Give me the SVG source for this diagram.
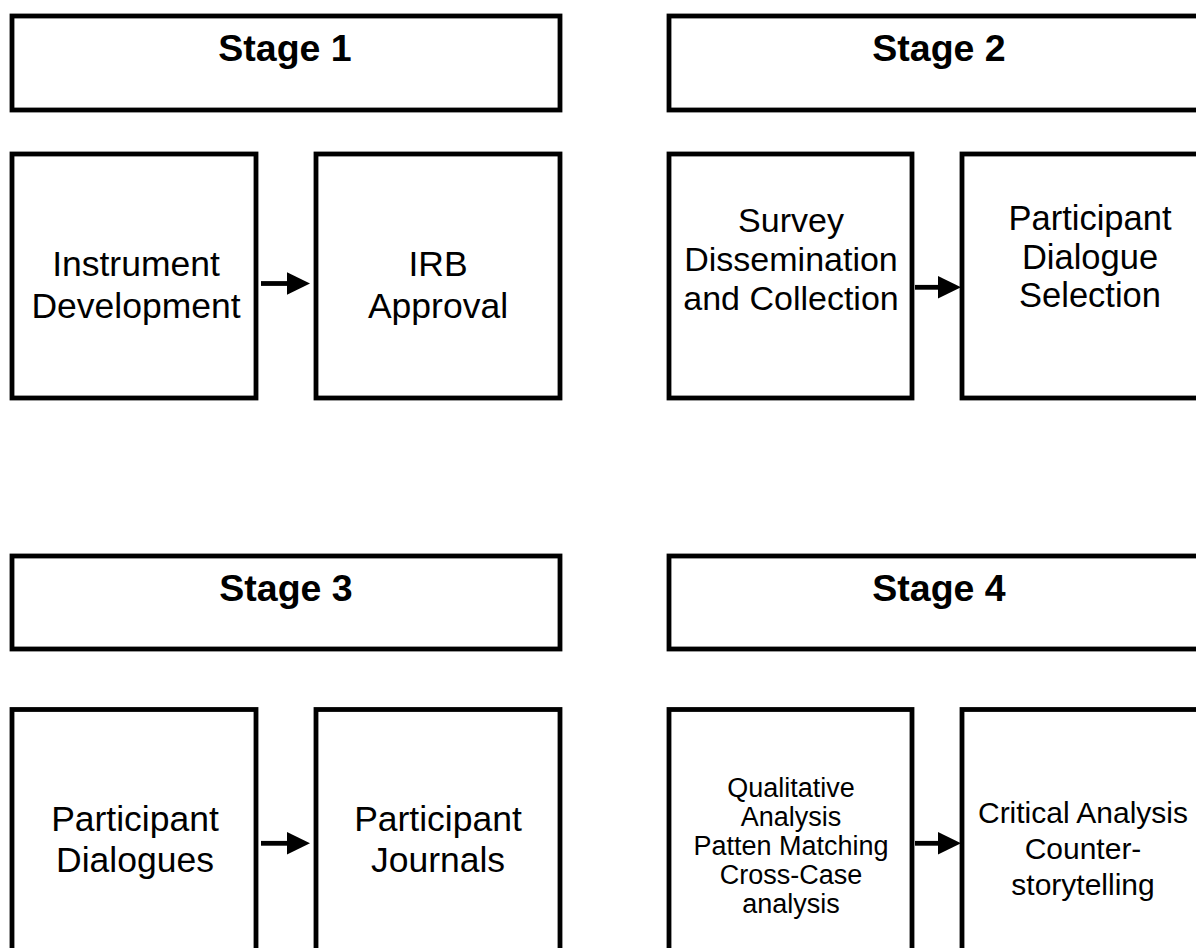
<svg xmlns="http://www.w3.org/2000/svg" width="1196" height="948" viewBox="0 0 1196 948">
<style>
.box{fill:#fff;stroke:#000;stroke-width:4.8}
.t{font-family:"Liberation Sans",Arial,Helvetica,sans-serif;fill:#000;text-anchor:middle}
.h{font-weight:bold;font-size:37.5px}
.conn{stroke:#000;stroke-width:4.8;fill:none}
</style>
<defs>
<marker id="ah" markerUnits="userSpaceOnUse" markerWidth="23" markerHeight="23" refX="4" refY="11.2" orient="auto">
<path d="M0,0 L23,11.2 L0,22.4 z" fill="#000"/>
</marker>
</defs>
<rect width="1196" height="948" fill="#fff"/>
<g id="stage1"><rect class="box" x="12" y="16" width="548" height="94"/><text class="t h" x="285" y="60.5">Stage 1</text></g>
<g id="stage2"><rect class="box" x="669" y="16" width="548" height="94"/><text class="t h" x="939" y="60.5">Stage 2</text></g>
<g id="stage3"><rect class="box" x="12" y="556" width="548" height="93"/><text class="t h" x="286" y="600.5">Stage 3</text></g>
<g id="stage4"><rect class="box" x="669" y="556" width="548" height="93"/><text class="t h" x="939" y="600.5">Stage 4</text></g>
<g id="instrument"><rect class="box" x="12" y="154" width="244" height="244"/><text class="t" font-size="35.5" x="136" y="276">Instrument</text><text class="t" font-size="35.5" x="136" y="318">Development</text></g>
<g id="irb"><rect class="box" x="316" y="154" width="244" height="244"/><text class="t" font-size="35.5" x="438" y="276">IRB</text><text class="t" font-size="35.5" x="438" y="318">Approval</text></g>
<g id="survey"><rect class="box" x="669" y="154" width="243" height="244"/><text class="t" font-size="34" x="791" y="232">Survey</text><text class="t" font-size="34" x="791" y="271">Dissemination</text><text class="t" font-size="34" x="791" y="310">and Collection</text></g>
<g id="selection"><rect class="box" x="962" y="154" width="256" height="244"/><text class="t" font-size="34.5" x="1090" y="230">Participant</text><text class="t" font-size="34.5" x="1090" y="268.5">Dialogue</text><text class="t" font-size="34.5" x="1090" y="307">Selection</text></g>
<g id="dialogues"><rect class="box" x="12" y="709.5" width="244" height="260"/><text class="t" font-size="35.5" x="135" y="831">Participant</text><text class="t" font-size="35.5" x="135" y="872">Dialogues</text></g>
<g id="journals"><rect class="box" x="316" y="709.5" width="244" height="260"/><text class="t" font-size="35.5" x="438" y="831">Participant</text><text class="t" font-size="35.5" x="438" y="872">Journals</text></g>
<g id="qualitative"><rect class="box" x="669" y="709.5" width="243" height="260"/><text class="t" font-size="27" x="791" y="796.5">Qualitative</text><text class="t" font-size="27" x="791" y="825.5">Analysis</text><text class="t" font-size="27" x="791" y="855">Patten Matching</text><text class="t" font-size="27" x="791" y="884">Cross-Case</text><text class="t" font-size="27" x="791" y="913">analysis</text></g>
<g id="critical"><rect class="box" x="962" y="709.5" width="256" height="260"/><text class="t" font-size="30" x="1083" y="823">Critical Analysis</text><text class="t" font-size="30" x="1083" y="859">Counter-</text><text class="t" font-size="30" x="1083" y="895">storytelling</text></g>
<g id="connectors">
<line class="conn" x1="261" y1="283.5" x2="291" y2="283.5" marker-end="url(#ah)"/>
<line class="conn" x1="915" y1="287.3" x2="942" y2="287.3" marker-end="url(#ah)"/>
<line class="conn" x1="261" y1="843.3" x2="291" y2="843.3" marker-end="url(#ah)"/>
<line class="conn" x1="915" y1="843.3" x2="942" y2="843.3" marker-end="url(#ah)"/>
</g>
</svg>
